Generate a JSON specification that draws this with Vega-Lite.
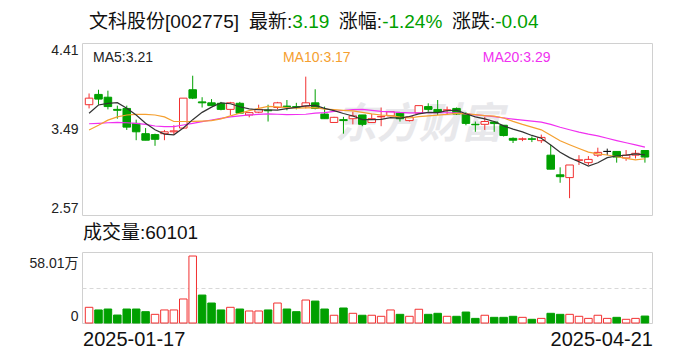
{
  "$schema": "https://vega.github.io/schema/vega-lite/v6.json",
  "background": "white",
  "padding": {"left": 28, "top": 12, "right": 5, "bottom": 5},
  "config": {
    "font": "Liberation Sans, Noto Sans CJK SC",
    "view": {"stroke": "#d0d0d0", "strokeWidth": 1},
    "axis": {"labelFont": "Liberation Sans, Noto Sans CJK SC", "labelColor": "#222", "domain": false, "ticks": false}
  },
  "datasets": {
    "k": [
      {"date":"2025-01-17","open":3.75,"high":3.87,"low":3.71,"close":3.82,"vol":13.6,"vdir":"up","ma5":3.658,"ma10":3.48,"ma20":3.546},
      {"date":"2025-01-20","open":3.86,"high":3.91,"low":3.75,"close":3.81,"vol":11.3,"vdir":"down","ma5":3.747,"ma10":3.53,"ma20":3.551},
      {"date":"2025-01-21","open":3.83,"high":3.9,"low":3.7,"close":3.73,"vol":12.1,"vdir":"down","ma5":3.765,"ma10":3.585,"ma20":3.557},
      {"date":"2025-01-22","open":3.7,"high":3.74,"low":3.6,"close":3.69,"vol":6.9,"vdir":"down","ma5":3.771,"ma10":3.62,"ma20":3.56},
      {"date":"2025-01-23","open":3.71,"high":3.74,"low":3.48,"close":3.51,"vol":12.1,"vdir":"down","ma5":3.712,"ma10":3.64,"ma20":3.557},
      {"date":"2025-01-24","open":3.55,"high":3.59,"low":3.37,"close":3.46,"vol":12.1,"vdir":"down","ma5":3.64,"ma10":3.647,"ma20":3.551},
      {"date":"2025-01-27","open":3.44,"high":3.5,"low":3.37,"close":3.37,"vol":9.8,"vdir":"down","ma5":3.552,"ma10":3.647,"ma20":3.54},
      {"date":"2025-02-05","open":3.43,"high":3.44,"low":3.31,"close":3.38,"vol":7.5,"vdir":"up","ma5":3.482,"ma10":3.64,"ma20":3.522},
      {"date":"2025-02-06","open":3.44,"high":3.48,"low":3.37,"close":3.46,"vol":11.3,"vdir":"up","ma5":3.436,"ma10":3.62,"ma20":3.515},
      {"date":"2025-02-07","open":3.46,"high":3.53,"low":3.43,"close":3.47,"vol":11.3,"vdir":"up","ma5":3.428,"ma10":3.57,"ma20":3.515},
      {"date":"2025-02-10","open":3.5,"high":3.82,"low":3.49,"close":3.82,"vol":20.8,"vdir":"up","ma5":3.5,"ma10":3.57,"ma20":3.533},
      {"date":"2025-02-11","open":3.91,"high":4.06,"low":3.81,"close":3.82,"vol":58.01,"vdir":"up","ma5":3.59,"ma10":3.571,"ma20":3.551},
      {"date":"2025-02-12","open":3.78,"high":3.83,"low":3.72,"close":3.77,"vol":24.2,"vdir":"down","ma5":3.668,"ma10":3.575,"ma20":3.568},
      {"date":"2025-02-13","open":3.77,"high":3.81,"low":3.74,"close":3.74,"vol":17.3,"vdir":"down","ma5":3.724,"ma10":3.58,"ma20":3.586},
      {"date":"2025-02-14","open":3.765,"high":3.78,"low":3.69,"close":3.7,"vol":11.3,"vdir":"down","ma5":3.77,"ma10":3.599,"ma20":3.604},
      {"date":"2025-02-17","open":3.7,"high":3.78,"low":3.64,"close":3.77,"vol":13.6,"vdir":"up","ma5":3.76,"ma10":3.63,"ma20":3.62},
      {"date":"2025-02-18","open":3.765,"high":3.78,"low":3.66,"close":3.66,"vol":12.1,"vdir":"down","ma5":3.728,"ma10":3.659,"ma20":3.63},
      {"date":"2025-02-19","open":3.64,"high":3.67,"low":3.615,"close":3.665,"vol":10.4,"vdir":"up","ma5":3.706,"ma10":3.687,"ma20":3.64},
      {"date":"2025-02-20","open":3.67,"high":3.75,"low":3.66,"close":3.7,"vol":10.4,"vdir":"up","ma5":3.696,"ma10":3.71,"ma20":3.646},
      {"date":"2025-02-21","open":3.69,"high":3.75,"low":3.57,"close":3.685,"vol":11.3,"vdir":"down","ma5":3.694,"ma10":3.732,"ma20":3.651},
      {"date":"2025-02-24","open":3.72,"high":3.78,"low":3.7,"close":3.77,"vol":17.3,"vdir":"up","ma5":3.692,"ma10":3.726,"ma20":3.648},
      {"date":"2025-02-25","open":3.735,"high":3.8,"low":3.69,"close":3.73,"vol":12.1,"vdir":"down","ma5":3.707,"ma10":3.718,"ma20":3.644},
      {"date":"2025-02-26","open":3.73,"high":3.77,"low":3.7,"close":3.72,"vol":9.8,"vdir":"down","ma5":3.722,"ma10":3.714,"ma20":3.645},
      {"date":"2025-02-27","open":3.735,"high":4.05,"low":3.71,"close":3.77,"vol":19.9,"vdir":"up","ma5":3.737,"ma10":3.717,"ma20":3.648},
      {"date":"2025-02-28","open":3.77,"high":3.915,"low":3.7,"close":3.71,"vol":19.0,"vdir":"down","ma5":3.743,"ma10":3.719,"ma20":3.659},
      {"date":"2025-03-03","open":3.65,"high":3.73,"low":3.6,"close":3.6,"vol":12.1,"vdir":"down","ma5":3.711,"ma10":3.702,"ma20":3.666},
      {"date":"2025-03-04","open":3.56,"high":3.62,"low":3.56,"close":3.615,"vol":6.7,"vdir":"up","ma5":3.687,"ma10":3.697,"ma20":3.678},
      {"date":"2025-03-05","open":3.59,"high":3.62,"low":3.44,"close":3.58,"vol":13.0,"vdir":"down","ma5":3.656,"ma10":3.689,"ma20":3.688},
      {"date":"2025-03-06","open":3.6,"high":3.675,"low":3.54,"close":3.63,"vol":8.4,"vdir":"up","ma5":3.629,"ma10":3.683,"ma20":3.697},
      {"date":"2025-03-07","open":3.64,"high":3.64,"low":3.52,"close":3.54,"vol":6.7,"vdir":"down","ma5":3.591,"ma10":3.667,"ma20":3.7},
      {"date":"2025-03-10","open":3.56,"high":3.65,"low":3.56,"close":3.6,"vol":6.7,"vdir":"up","ma5":3.591,"ma10":3.651,"ma20":3.689},
      {"date":"2025-03-11","open":3.62,"high":3.72,"low":3.52,"close":3.625,"vol":5.8,"vdir":"up","ma5":3.593,"ma10":3.64,"ma20":3.679},
      {"date":"2025-03-12","open":3.63,"high":3.68,"low":3.63,"close":3.675,"vol":11.3,"vdir":"up","ma5":3.612,"ma10":3.634,"ma20":3.674},
      {"date":"2025-03-13","open":3.66,"high":3.66,"low":3.57,"close":3.6,"vol":7.5,"vdir":"down","ma5":3.606,"ma10":3.618,"ma20":3.667},
      {"date":"2025-03-14","open":3.58,"high":3.63,"low":3.57,"close":3.62,"vol":5.8,"vdir":"up","ma5":3.624,"ma10":3.608,"ma20":3.663},
      {"date":"2025-03-17","open":3.66,"high":3.74,"low":3.65,"close":3.74,"vol":11.9,"vdir":"up","ma5":3.652,"ma10":3.622,"ma20":3.662},
      {"date":"2025-03-18","open":3.73,"high":3.765,"low":3.675,"close":3.7,"vol":7.5,"vdir":"down","ma5":3.667,"ma10":3.63,"ma20":3.664},
      {"date":"2025-03-19","open":3.7,"high":3.8,"low":3.64,"close":3.67,"vol":8.4,"vdir":"down","ma5":3.666,"ma10":3.639,"ma20":3.664},
      {"date":"2025-03-20","open":3.69,"high":3.73,"low":3.64,"close":3.695,"vol":5.8,"vdir":"up","ma5":3.685,"ma10":3.646,"ma20":3.664},
      {"date":"2025-03-21","open":3.71,"high":3.72,"low":3.64,"close":3.65,"vol":5.8,"vdir":"down","ma5":3.691,"ma10":3.658,"ma20":3.662},
      {"date":"2025-03-24","open":3.65,"high":3.67,"low":3.53,"close":3.55,"vol":9.5,"vdir":"down","ma5":3.653,"ma10":3.653,"ma20":3.652},
      {"date":"2025-03-25","open":3.54,"high":3.57,"low":3.46,"close":3.535,"vol":4.0,"vdir":"down","ma5":3.619,"ma10":3.643,"ma20":3.642},
      {"date":"2025-03-26","open":3.54,"high":3.62,"low":3.48,"close":3.57,"vol":6.7,"vdir":"up","ma5":3.599,"ma10":3.633,"ma20":3.633},
      {"date":"2025-03-27","open":3.565,"high":3.57,"low":3.46,"close":3.55,"vol":4.9,"vdir":"down","ma5":3.57,"ma10":3.628,"ma20":3.623},
      {"date":"2025-03-28","open":3.53,"high":3.53,"low":3.41,"close":3.42,"vol":4.9,"vdir":"down","ma5":3.524,"ma10":3.608,"ma20":3.608},
      {"date":"2025-03-31","open":3.39,"high":3.4,"low":3.34,"close":3.37,"vol":5.8,"vdir":"down","ma5":3.488,"ma10":3.571,"ma20":3.596},
      {"date":"2025-04-01","open":3.38,"high":3.4,"low":3.36,"close":3.385,"vol":4.9,"vdir":"up","ma5":3.459,"ma10":3.539,"ma20":3.585},
      {"date":"2025-04-02","open":3.385,"high":3.41,"low":3.35,"close":3.38,"vol":3.2,"vdir":"down","ma5":3.421,"ma10":3.51,"ma20":3.575},
      {"date":"2025-04-03","open":3.365,"high":3.43,"low":3.34,"close":3.4,"vol":4.0,"vdir":"up","ma5":3.391,"ma10":3.481,"ma20":3.563},
      {"date":"2025-04-07","open":3.21,"high":3.32,"low":3.06,"close":3.06,"vol":8.4,"vdir":"down","ma5":3.319,"ma10":3.422,"ma20":3.54},
      {"date":"2025-04-08","open":3.0,"high":3.08,"low":2.915,"close":2.98,"vol":7.5,"vdir":"down","ma5":3.241,"ma10":3.365,"ma20":3.509},
      {"date":"2025-04-09","open":2.97,"high":3.105,"low":2.75,"close":3.105,"vol":7.5,"vdir":"up","ma5":3.184,"ma10":3.322,"ma20":3.482},
      {"date":"2025-04-10","open":3.155,"high":3.21,"low":3.105,"close":3.16,"vol":5.8,"vdir":"up","ma5":3.14,"ma10":3.281,"ma20":3.457},
      {"date":"2025-04-11","open":3.13,"high":3.2,"low":3.105,"close":3.165,"vol":4.0,"vdir":"up","ma5":3.093,"ma10":3.242,"ma20":3.435},
      {"date":"2025-04-14","open":3.21,"high":3.29,"low":3.19,"close":3.24,"vol":6.7,"vdir":"up","ma5":3.129,"ma10":3.224,"ma20":3.416},
      {"date":"2025-04-15","open":3.25,"high":3.28,"low":3.21,"close":3.25,"vol":4.0,"vdir":"up","ma5":3.183,"ma10":3.212,"ma20":3.391},
      {"date":"2025-04-16","open":3.25,"high":3.25,"low":3.13,"close":3.19,"vol":4.9,"vdir":"down","ma5":3.201,"ma10":3.193,"ma20":3.366},
      {"date":"2025-04-17","open":3.18,"high":3.265,"low":3.15,"close":3.21,"vol":3.2,"vdir":"up","ma5":3.211,"ma10":3.176,"ma20":3.343},
      {"date":"2025-04-18","open":3.21,"high":3.265,"low":3.175,"close":3.23,"vol":4.0,"vdir":"up","ma5":3.224,"ma10":3.159,"ma20":3.32},
      {"date":"2025-04-21","open":3.26,"high":3.265,"low":3.13,"close":3.19,"vol":6.01,"vdir":"down","ma5":3.214,"ma10":3.172,"ma20":3.297}
    ]
  },
  "vconcat": [
    {
      "width": 570,
      "height": 172,
      "data": {"name": "k"},
      "encoding": {
        "x": {"field": "date", "type": "ordinal", "scale": {"paddingInner": 0.2, "paddingOuter": 0.35}, "axis": null}
      },
      "layer": [
        {
          "data": {"values": [{"t": "东方财富"}]},
          "mark": {"type": "text", "font": "Noto Sans CJK SC", "fontSize": 42, "fontWeight": "bold", "fontStyle": "italic", "color": "#e8e8eb", "baseline": "middle", "align": "center"},
          "encoding": {
            "x": {"datum": "2025-03-17", "type": "ordinal"},
            "y": {
              "datum": 3.53, "type": "quantitative",
              "scale": {"domain": [2.57, 4.41], "zero": false, "nice": false},
              "axis": {
                "title": null,
                "values": [2.57, 3.03, 3.49, 3.95, 4.41],
                "labelFontSize": 14,
                "labelPadding": 4,
                "labelFlush": true,
                "labelExpr": "(datum.value == 3.03 || datum.value == 3.95) ? '' : format(datum.value, '.2f')",
                "gridColor": "#d8d8d8",
                "gridDash": {"condition": {"test": "datum.value == 3.49", "value": [1, 0]}, "value": [4, 3]},
                "gridOpacity": {"condition": {"test": "datum.value == 2.57 || datum.value == 4.41", "value": 0}, "value": 1}
              }
            },
            "text": {"field": "t"}
          }
        },
        {
          "mark": {"type": "rule", "strokeWidth": 1},
          "encoding": {
            "y": {"field": "low", "type": "quantitative", "scale": {"domain": [2.57, 4.41], "zero": false, "nice": false}, "axis": {"title": null}},
            "y2": {"field": "high"},
            "stroke": {"condition": [{"test": "datum.close > datum.open", "value": "#f23030"}, {"test": "datum.close < datum.open", "value": "#00a000"}], "value": "#111111"}
          }
        },
        {
          "mark": {"type": "bar", "strokeWidth": 1},
          "encoding": {
            "y": {"field": "open", "type": "quantitative", "scale": {"domain": [2.57, 4.41], "zero": false, "nice": false}, "axis": {"title": null}},
            "y2": {"field": "close"},
            "fill": {"condition": [{"test": "datum.close > datum.open", "value": "#ffffff"}, {"test": "datum.close < datum.open", "value": "#00a000"}], "value": "#111111"},
            "stroke": {"condition": [{"test": "datum.close > datum.open", "value": "#f23030"}, {"test": "datum.close < datum.open", "value": "#00a000"}], "value": "#111111"}
          }
        },
        {
          "mark": {"type": "line", "color": "#f030f0", "strokeWidth": 1.2},
          "encoding": {"y": {"field": "ma20", "type": "quantitative", "scale": {"domain": [2.57, 4.41], "zero": false, "nice": false}, "axis": {"title": null}}}
        },
        {
          "mark": {"type": "line", "color": "#f5a030", "strokeWidth": 1.2},
          "encoding": {"y": {"field": "ma10", "type": "quantitative", "scale": {"domain": [2.57, 4.41], "zero": false, "nice": false}, "axis": {"title": null}}}
        },
        {
          "mark": {"type": "line", "color": "#333333", "strokeWidth": 1.2},
          "encoding": {"y": {"field": "ma5", "type": "quantitative", "scale": {"domain": [2.57, 4.41], "zero": false, "nice": false}, "axis": {"title": null}}}
        },
        {
          "data": {"values": [{"t": "MA5:3.21"}]},
          "mark": {"type": "text", "fontSize": 14, "color": "#222222", "align": "left", "baseline": "top", "dx": 4, "dy": 8},
          "encoding": {"x": {"datum": "2025-01-17", "type": "ordinal"}, "y": {"datum": 4.41, "type": "quantitative", "axis": {"title": null}}, "text": {"field": "t"}}
        },
        {
          "data": {"values": [{"t": "MA10:3.17"}]},
          "mark": {"type": "text", "fontSize": 14, "color": "#f5a030", "align": "left", "baseline": "top", "dx": -4, "dy": 8},
          "encoding": {"x": {"datum": "2025-02-25", "type": "ordinal"}, "y": {"datum": 4.41, "type": "quantitative", "axis": {"title": null}}, "text": {"field": "t"}}
        },
        {
          "data": {"values": [{"t": "MA20:3.29"}]},
          "mark": {"type": "text", "fontSize": 14, "color": "#f030f0", "align": "left", "baseline": "top", "dx": -2, "dy": 8},
          "encoding": {"x": {"datum": "2025-03-26", "type": "ordinal"}, "y": {"datum": 4.41, "type": "quantitative", "axis": {"title": null}}, "text": {"field": "t"}}
        },
        {
          "data": {"values": [{"t": "文科股份[002775]"}]},
          "mark": {"type": "text", "fontSize": 19, "color": "#111111", "align": "left", "baseline": "middle", "dx": 0, "dy": -21},
          "encoding": {"x": {"datum": "2025-01-17", "type": "ordinal"}, "y": {"datum": 4.41, "type": "quantitative", "axis": {"title": null}}, "text": {"field": "t"}}
        },
        {
          "data": {"values": [{"t": "最新:"}]},
          "mark": {"type": "text", "fontSize": 19, "color": "#111111", "align": "right", "baseline": "middle", "dx": -4, "dy": -21},
          "encoding": {"x": {"datum": "2025-02-26", "type": "ordinal"}, "y": {"datum": 4.41, "type": "quantitative", "axis": {"title": null}}, "text": {"field": "t"}}
        },
        {
          "data": {"values": [{"t": "3.19"}]},
          "mark": {"type": "text", "fontSize": 19, "color": "#00a000", "align": "left", "baseline": "middle", "dx": -4, "dy": -21},
          "encoding": {"x": {"datum": "2025-02-26", "type": "ordinal"}, "y": {"datum": 4.41, "type": "quantitative", "axis": {"title": null}}, "text": {"field": "t"}}
        },
        {
          "data": {"values": [{"t": "涨幅:"}]},
          "mark": {"type": "text", "fontSize": 19, "color": "#111111", "align": "right", "baseline": "middle", "dx": 1, "dy": -21},
          "encoding": {"x": {"datum": "2025-03-11", "type": "ordinal"}, "y": {"datum": 4.41, "type": "quantitative", "axis": {"title": null}}, "text": {"field": "t"}}
        },
        {
          "data": {"values": [{"t": "-1.24%"}]},
          "mark": {"type": "text", "fontSize": 19, "color": "#00a000", "align": "left", "baseline": "middle", "dx": 1, "dy": -21},
          "encoding": {"x": {"datum": "2025-03-11", "type": "ordinal"}, "y": {"datum": 4.41, "type": "quantitative", "axis": {"title": null}}, "text": {"field": "t"}}
        },
        {
          "data": {"values": [{"t": "涨跌:"}]},
          "mark": {"type": "text", "fontSize": 19, "color": "#111111", "align": "right", "baseline": "middle", "dx": 1, "dy": -21},
          "encoding": {"x": {"datum": "2025-03-27", "type": "ordinal"}, "y": {"datum": 4.41, "type": "quantitative", "axis": {"title": null}}, "text": {"field": "t"}}
        },
        {
          "data": {"values": [{"t": "-0.04"}]},
          "mark": {"type": "text", "fontSize": 19, "color": "#00a000", "align": "left", "baseline": "middle", "dx": 1, "dy": -21},
          "encoding": {"x": {"datum": "2025-03-27", "type": "ordinal"}, "y": {"datum": 4.41, "type": "quantitative", "axis": {"title": null}}, "text": {"field": "t"}}
        }
      ]
    },
    {
      "width": 570,
      "height": 71,
      "title": {"text": "成交量:60101", "anchor": "start", "frame": "group", "fontSize": 19, "fontWeight": "normal", "color": "#111111", "offset": 9, "font": "Liberation Sans, Noto Sans CJK SC", "dx": 1},
      "data": {"name": "k"},
      "mark": {"type": "bar", "strokeWidth": 1},
      "encoding": {
        "x": {
          "field": "date", "type": "ordinal",
          "scale": {"paddingInner": 0.2, "paddingOuter": 0.35},
          "axis": {
            "title": null,
            "values": ["2025-01-17", "2025-04-21"],
            "labelAngle": 0,
            "labelFontSize": 20,
            "labelColor": "#111111",
            "labelPadding": 6,
            "labelAlign": {"condition": {"test": "datum.value == '2025-01-17'", "value": "left"}, "value": "right"},
            "labelOffset": {"condition": {"test": "datum.value == '2025-01-17'", "value": -6}, "value": 8}
          }
        },
        "y": {
          "field": "vol", "type": "quantitative",
          "scale": {"domain": [0, 61.5], "nice": false, "zero": true},
          "axis": {
            "title": null,
            "values": [0, 30.75, 58.01],
            "labelFontSize": 14,
            "labelPadding": 4,
            "labelExpr": "datum.value == 0 ? '0' : (datum.value > 58 ? '58.01万' : '')",
            "labelBaseline": {"condition": {"test": "datum.value > 58", "value": "top"}, "value": "bottom"},
            "gridColor": "#d8d8d8",
            "gridDash": [4, 3],
            "gridOpacity": {"condition": {"test": "datum.value == 30.75", "value": 1}, "value": 0}
          }
        },
        "fill": {"condition": {"test": "datum.vdir == 'up'", "value": "#ffffff"}, "value": "#00a000"},
        "stroke": {"condition": {"test": "datum.vdir == 'up'", "value": "#f23030"}, "value": "#00a000"}
      }
    }
  ],
  "spacing": 37,
  "bounds": "flush"
}
